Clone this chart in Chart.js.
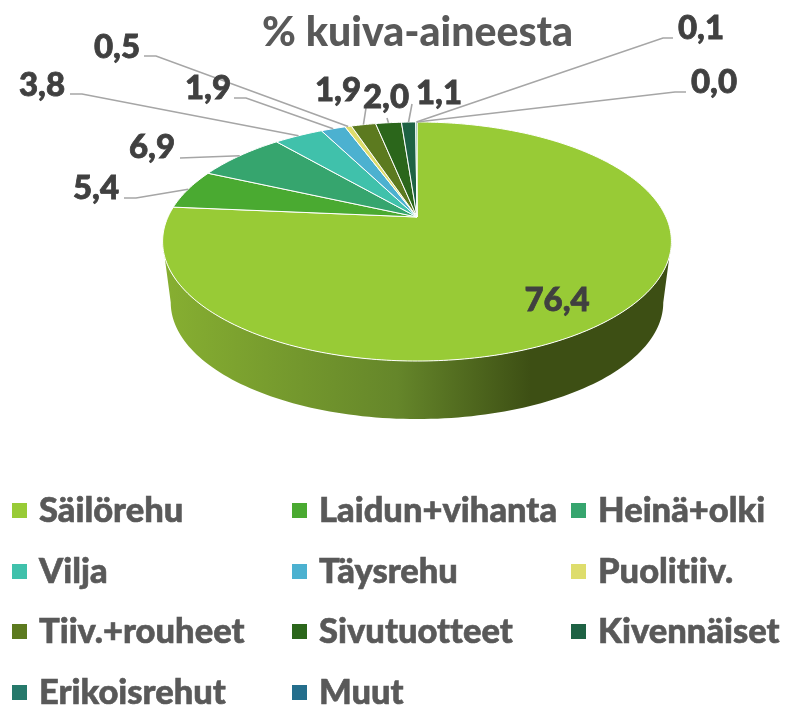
<!DOCTYPE html>
<html lang="fi">
<head>
<meta charset="utf-8">
<title>% kuiva-aineesta</title>
<script src="https://cdn.jsdelivr.net/npm/chart.js@4/dist/chart.umd.min.js"></script>
<style>
    html, body { margin: 0; padding: 0; background: #fff; overflow: hidden; }
    canvas { display: block; }
</style>
</head>
<body>
<canvas id="feedChart" width="785" height="705"></canvas>
<script>
const categories = ['Säilörehu', 'Laidun+vihanta', 'Heinä+olki', 'Vilja', 'Täysrehu', 'Puolitiiv.',
    'Tiiv.+rouheet', 'Sivutuotteet', 'Kivennäiset', 'Erikoisrehut', 'Muut'];
const shares = [76.4, 5.4, 6.9, 3.8, 1.9, 0.5, 1.9, 2.0, 1.1, 0.1, 0.0];
const sliceColors = ['#98CB36', '#4AAA31', '#36A56E', '#40C1AB', '#4CB1D0', '#DEDD6C',
    '#5C7A1F', '#2B661B', '#1E6244', '#26796B', '#246E8C'];

// data label text centres and leader elbows (null = no leader)
const labelCenters = [[557, 300], [96, 188], [152, 147], [42, 85], [208, 88], [117, 47],
    [338, 90], [386, 97], [439, 93], [701, 28], [714, 82]];
const leaderStarts = [null, [124, 198], [180, 158], [70, 94], [234, 98], [144, 56],
    [366, 108], [387, 118], [412, 104], [673, 38], [686, 92]];
const leaderElbows = [null, [136, 198], [180, 158], [82, 94], [246, 98], [156, 56],
    [366, 108], [387, 118], [412, 104], [663, 38], [675, 92]];

// perspective of the tilted disc, fitted to the reference
const disc = { x: 417, y: 217, a: 249, b: 114.5, k: 0.205, midY: 241.5 };
const wall = { depth: 61, sx: 0.968, sy: 0.975 };

function project(angle) {
    const u = Math.cos(angle), v = Math.sin(angle), w = 1 - disc.k * v;
    return { x: disc.x + disc.a * u / w, y: disc.y + disc.b * v / w };
}

function projectLower(angle) {
    const p = project(angle);
    return {
        x: disc.x + (p.x - disc.x) * wall.sx,
        y: disc.midY + (p.y - disc.midY) * wall.sy + wall.depth
    };
}

// Arc element that draws itself through the disc projection
class ProjectedArc extends Chart.ArcElement {
    draw(ctx) {
        if (this.endAngle - this.startAngle <= 0) return;
        const steps = Math.max(2, Math.ceil((this.endAngle - this.startAngle) * 60));
        ctx.save();
        ctx.beginPath();
        ctx.moveTo(disc.x, disc.y);
        for (let i = 0; i <= steps; i++) {
            const p = project(this.startAngle + (this.endAngle - this.startAngle) * i / steps);
            ctx.lineTo(p.x, p.y);
        }
        ctx.closePath();
        ctx.fillStyle = this.options.backgroundColor;
        ctx.fill();
        ctx.lineJoin = 'round';
        ctx.lineWidth = this.options.borderWidth;
        ctx.strokeStyle = this.options.borderColor;
        ctx.stroke();
        ctx.restore();
    }
}
ProjectedArc.id = 'projectedArc';
ProjectedArc.defaults = Chart.ArcElement.defaults;

class ProjectedPie extends Chart.PieController {}
ProjectedPie.id = 'projectedPie';
ProjectedPie.defaults = { ...Chart.PieController.defaults, dataElementType: 'projectedArc' };

Chart.register(ProjectedArc, ProjectedPie);

const wallPlugin = {
    id: 'discWall',
    beforeDatasetsDraw(chart) {
        const ctx = chart.ctx;
        const start = Math.asin(disc.k), end = Math.PI - start;
        const grad = ctx.createLinearGradient(170, 0, 664, 0);
        grad.addColorStop(0, '#86AE31');
        grad.addColorStop(0.46, '#65862A');
        grad.addColorStop(0.73, '#3D4F14');
        grad.addColorStop(1, '#3D4F14');
        ctx.save();
        ctx.beginPath();
        for (let i = 0; i <= 120; i++) {
            const p = project(start + (end - start) * i / 120);
            i === 0 ? ctx.moveTo(p.x, p.y) : ctx.lineTo(p.x, p.y);
        }
        for (let i = 120; i >= 0; i--) {
            const p = projectLower(start + (end - start) * i / 120);
            ctx.lineTo(p.x, p.y);
        }
        ctx.closePath();
        ctx.fillStyle = grad;
        ctx.fill();
        ctx.restore();
    }
};

const labelPlugin = {
    id: 'leaderLabels',
    afterDatasetsDraw(chart) {
        const ctx = chart.ctx;
        const arcs = chart.getDatasetMeta(0).data;
        ctx.save();
        ctx.strokeStyle = '#A6A6A6';
        ctx.lineWidth = 1.6;
        arcs.forEach((arc, i) => {
            if (!leaderStarts[i]) return;
            const anchor = project((arc.startAngle + arc.endAngle) / 2);
            ctx.beginPath();
            ctx.moveTo(leaderStarts[i][0], leaderStarts[i][1]);
            ctx.lineTo(leaderElbows[i][0], leaderElbows[i][1]);
            ctx.lineTo(anchor.x, anchor.y);
            ctx.stroke();
        });
        ctx.fillStyle = '#404040';
        ctx.strokeStyle = '#404040';
        ctx.lineWidth = 0.8;
        ctx.font = '900 33px Lato';
        ctx.textAlign = 'center';
        ctx.textBaseline = 'middle';
        shares.forEach((v, i) => {
            const text = v.toFixed(1).replace('.', ',');
            ctx.fillText(text, labelCenters[i][0], labelCenters[i][1]);
            ctx.strokeText(text, labelCenters[i][0], labelCenters[i][1]);
        });
        ctx.restore();
    }
};

const gridLegendPlugin = {
    id: 'gridLegend',
    afterDraw(chart) {
        const ctx = chart.ctx;
        const colX = [12, 292, 571], rowY = [511, 572, 632, 693];
        ctx.save();
        ctx.font = '900 34.5px Lato';
        ctx.textRendering = 'optimizeSpeed'; // no "ti" ligature
        ctx.textAlign = 'left';
        ctx.textBaseline = 'middle';
        ctx.lineWidth = 0.6;
        categories.forEach((name, i) => {
            const x = colX[i % 3], y = rowY[Math.floor(i / 3)];
            ctx.fillStyle = sliceColors[i];
            ctx.fillRect(x, y - 8, 15, 15);
            ctx.fillStyle = '#595959';
            ctx.strokeStyle = '#595959';
            ctx.fillText(name, x + 27, y);
            ctx.strokeText(name, x + 27, y);
        });
        ctx.restore();
    }
};

new Chart(document.getElementById('feedChart'), {
    type: 'projectedPie',
    data: {
        labels: categories,
        datasets: [{
            data: shares,
            backgroundColor: sliceColors,
            borderColor: '#ffffff',
            borderWidth: 1
        }]
    },
    options: {
        responsive: false,
        animation: false,
        layout: { padding: { left: 50 } },
        plugins: {
            legend: { display: false },
            tooltip: { enabled: false },
            title: {
                display: true,
                text: '% kuiva-aineesta',
                color: '#595959',
                font: { family: 'Lato', size: 41, weight: 900 },
                padding: { top: 8, bottom: 10 }
            }
        }
    },
    plugins: [wallPlugin, labelPlugin, gridLegendPlugin]
});
</script>
</body>
</html>
